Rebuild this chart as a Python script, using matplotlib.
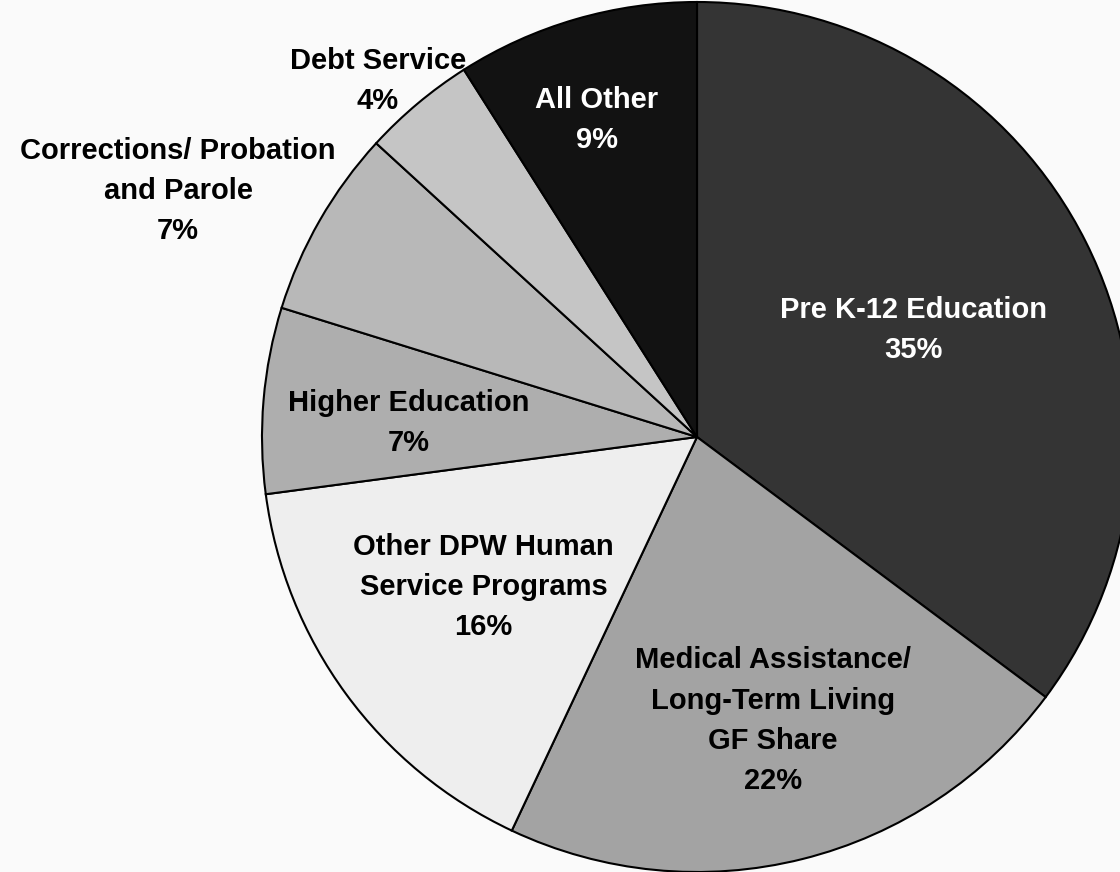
import numpy as np
import matplotlib.pyplot as plt

# Slice data, clockwise from 12 o'clock
categories = ['Pre K-12 Education', 'Medical Assistance/\nLong-Term Living\nGF Share',
              'Other DPW Human\nService Programs', 'Higher Education',
              'Corrections/ Probation\nand Parole', 'Debt Service', 'All Other']
shares = [35.2, 21.8, 15.9, 6.9, 7.0, 4.2, 9.0]
pct_labels = ['35%', '22%', '16%', '7%', '7%', '4%', '9%']

colors = ['#343434', '#a3a3a3', '#eeeeee', '#aeaeae', '#b8b8b8', '#c5c5c5', '#121212']
text_colors = ['white', 'black', 'black', 'black', 'black', 'black', 'white']
label_dist = [0.556, 0.675, 0.6, 0.663, 1.32, 1.10, 0.765]
angle_shift = [-0.4, 1, -1, 2, 4.5, 1.9, 1.3]

plt.rcParams['font.family'] = ['Liberation Sans', 'DejaVu Sans']

fig = plt.figure(figsize=(11.2, 8.72), dpi=100)
fig.patch.set_facecolor('#fafafa')
ax = fig.add_axes([0, 0, 1, 1])
ax.set_facecolor('#fafafa')

wedges, _ = ax.pie(shares, colors=colors, startangle=90, counterclock=False,
                   radius=1.0, wedgeprops=dict(edgecolor='black', linewidth=1.5))

for w, name, pct, tc, d, da in zip(wedges, categories, pct_labels, text_colors,
                                   label_dist, angle_shift):
    mid = np.deg2rad((w.theta1 + w.theta2) / 2 + da)
    ax.text(d * np.cos(mid), d * np.sin(mid), name + '\n' + pct,
            ha='center', va='center', fontsize=21, fontweight='bold',
            color=tc, linespacing=1.55)

# place the pie like the reference: centre at (697, 437) px, radius 435 px
scale = 435.0
ax.set_xlim(-697 / scale, (1120 - 697) / scale)
ax.set_ylim(-(872 - 437) / scale, 437 / scale)
ax.set_aspect('auto')
ax.axis('off')

fig.savefig('out.png', dpi=100, facecolor=fig.get_facecolor())
